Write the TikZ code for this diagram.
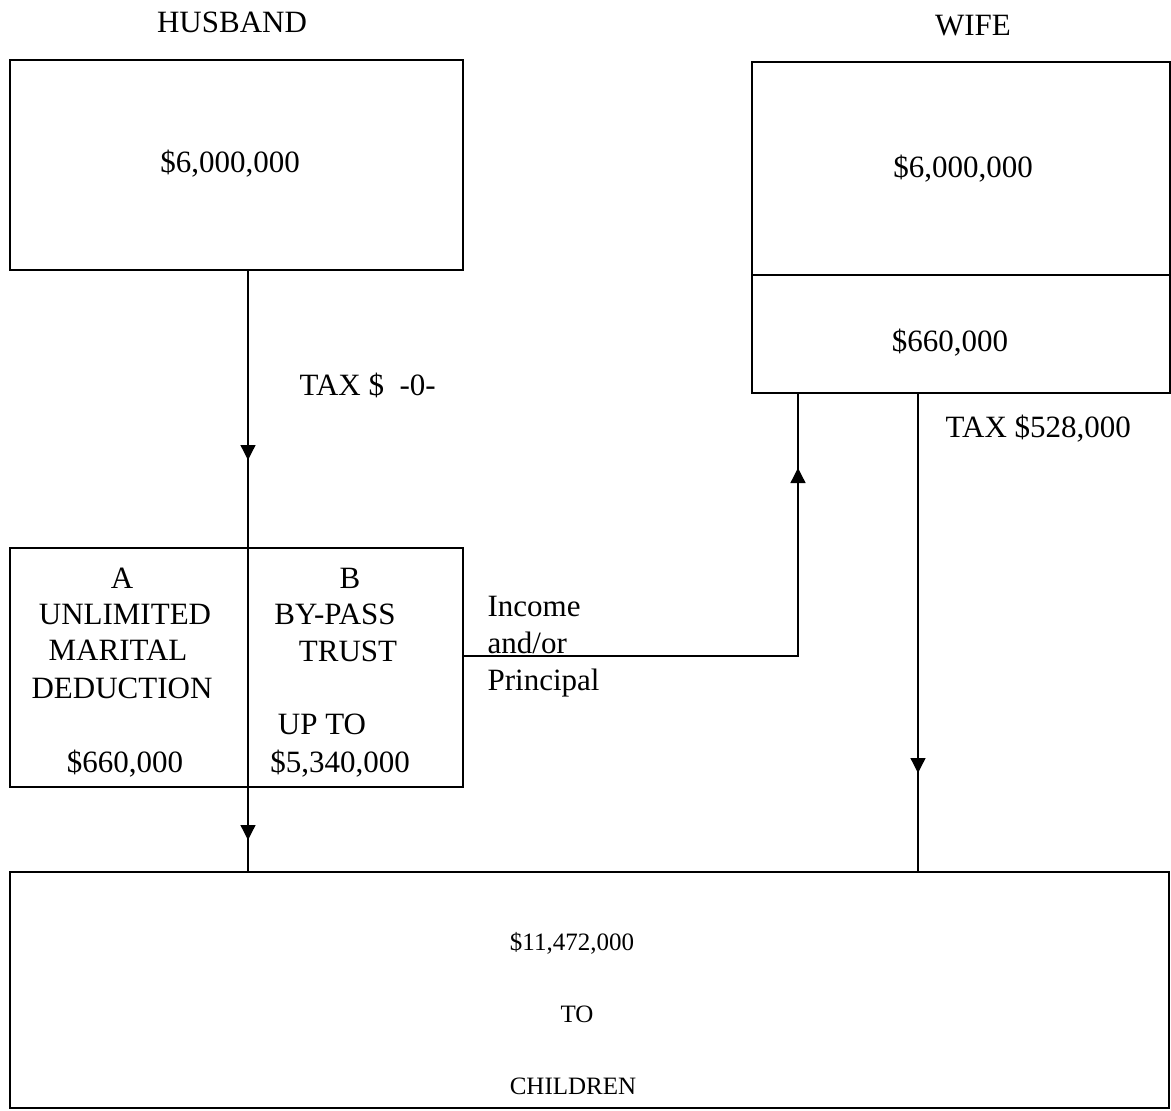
\documentclass[tikz,border=0pt]{standalone}
\usepackage{fontspec}
\setmainfont{Liberation Serif}
\usetikzlibrary{arrows.meta,decorations.markings}
\begin{document}
\begin{tikzpicture}[x=1pt,y=-1pt,line width=1.3pt,
  box/.style={draw,anchor=north west,inner sep=0pt,outer sep=0pt},
  txt/.style={inner sep=0pt,anchor=base,font=\fontsize{31}{37}\selectfont},
  ltxt/.style={txt,anchor=base west},
  ktxt/.style={txt,font=\fontsize{25}{30}\selectfont},
  arrowat/.style 2 args={postaction={decorate},decoration={markings,
     mark=at position #1 with {\arrow{Triangle[width=15pt,length=15pt]}},
     mark=at position #2 with {\arrow{Triangle[width=15pt,length=15pt]}}}},
  arrowone/.style={postaction={decorate},decoration={markings,
     mark=at position #1 with {\arrow{Triangle[width=15pt,length=15pt]}}}}]
\useasboundingbox (0,0) rectangle (1171,1111);
% boxes
\node[box,minimum width=453pt,minimum height=210pt] (hus) at (10,60) {};
\node[box,minimum width=418pt,minimum height=331pt] (wife) at (752,62) {};
\node[box,minimum width=453pt,minimum height=239pt] (ab) at (10,548) {};
\node[box,minimum width=1159pt,minimum height=236pt] (kids) at (10,872) {};
\coordinate (split) at (248,548);
\coordinate (wdiv) at (752,275);
\coordinate (ret) at (798,656);
\coordinate (wdown) at (918,393);
% wife divider
\draw (wdiv) -- (wdiv -| wife.east);
% husband main line
\draw[arrowat={190pt}{570pt}] (hus.south -| split) -- (kids.north -| split);
% return line
\draw[arrowone={523pt}] (ab.east |- ret) -- (ret) -- (wife.south -| ret);
% wife down line
\draw[arrowone={380pt}] (wife.south -| wdown) -- (kids.north -| wdown);
% texts
\node[txt] (th) at (232,32) {HUSBAND};
\node[txt] (tw) at (973,35) {WIFE};
\node[txt] (hv) at (230,172) {\$6,000,000};
\node[txt] (wv) at (963,177) {\$6,000,000};
\node[txt] (wv2) at (950,351) {\$660,000};
\node[ltxt] (tax1) at (299,395) {TAX \$\ \ -0-};
\node[ltxt] (tax2) at (945,437) {TAX \$528,000};
\node[txt] (a1) at (122,588) {A};
\node[txt] (a2) at (125,624) {UNLIMITED};
\node[txt] (a3) at (118,660) {MARITAL};
\node[txt] (a4) at (122,698) {DEDUCTION};
\node[txt] (a5) at (125,772) {\$660,000};
\node[txt] (b1) at (350,588) {B};
\node[txt] (b2) at (335,624) {BY-PASS};
\node[txt] (b3) at (348,661) {TRUST};
\node[txt] (b4) at (322,734) {UP TO};
\node[txt] (b5) at (340,772) {\$5,340,000};
\node[ltxt] (i1) at (487,616) {Income};
\node[ltxt] (i2) at (487,653) {and/or};
\node[ltxt] (i3) at (487,690) {Principal};
\node[ktxt] (k1) at (572,950) {\$11,472,000};
\node[ktxt] (k2) at (577,1022) {TO};
\node[ktxt] (k3) at (573,1094) {CHILDREN};
\end{tikzpicture}
\end{document}
